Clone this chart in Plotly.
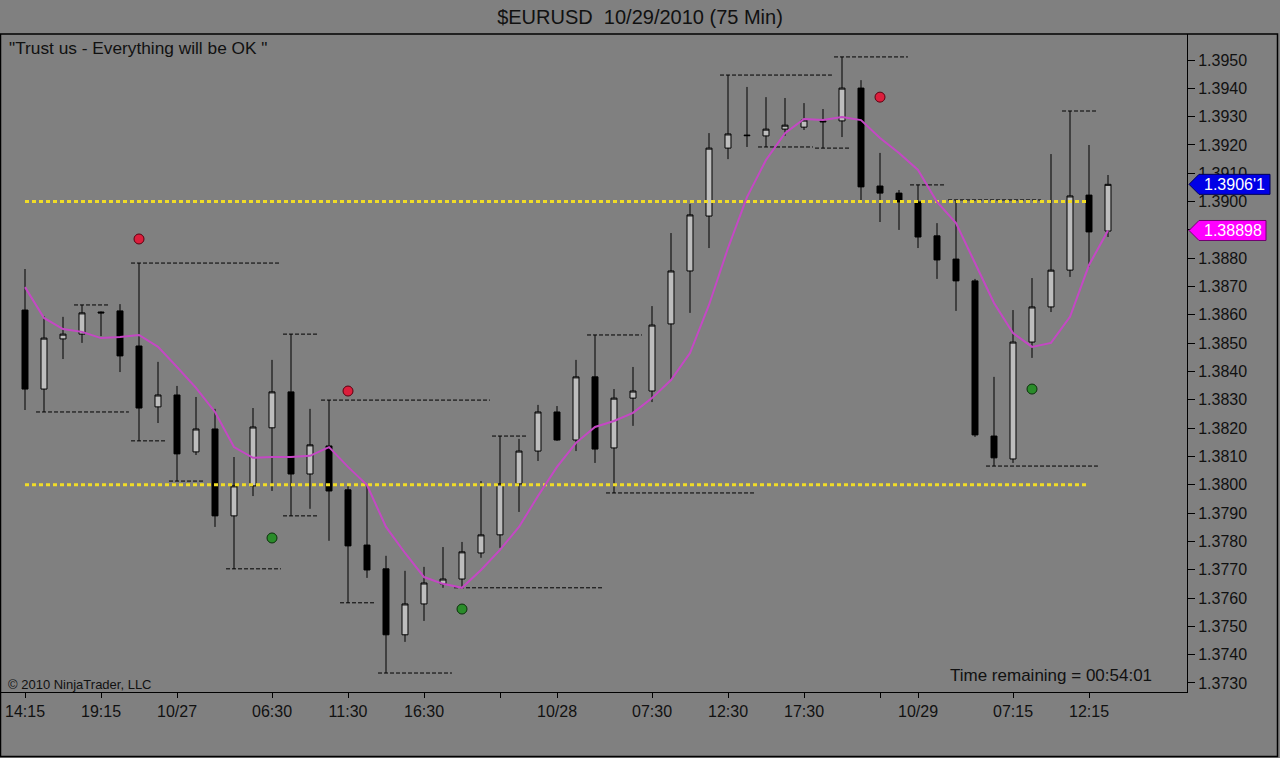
import plotly.graph_objects as go

# $EURUSD 75 min bars, 10/26 14:15 -> 10/29 13:30 (bar index 0..57)
bar_open = [1.38617, 1.38338, 1.38515, 1.38532, 1.38610, 1.38614, 1.38490, 1.38275, 1.38317, 1.38116,
            1.38197, 1.37890, 1.37996, 1.38201, 1.38328, 1.38038, 1.38137, 1.37982, 1.37787, 1.37703,
            1.37470, 1.37579, 1.37650, 1.37667, 1.37759, 1.37823, 1.38003, 1.38119, 1.38257, 1.38158,
            1.38381, 1.38130, 1.38306, 1.38331, 1.38568, 1.38755, 1.38949, 1.39189, 1.39235, 1.39232,
            1.39256, 1.39263, 1.39285, 1.39285, 1.39401, 1.39055, 1.39030, 1.38999, 1.38879, 1.38797,
            1.38720, 1.38172, 1.38091, 1.38504, 1.38628, 1.38758, 1.39023, 1.38896]
bar_high = [1.38762, 1.38596, 1.38593, 1.38635, 1.38612, 1.38638, 1.38783, 1.38434, 1.38349, 1.38310,
            1.38268, 1.38098, 1.38271, 1.38441, 1.38532, 1.38268, 1.38299, 1.37996, 1.37999, 1.37749,
            1.37696, 1.37710, 1.37780, 1.37798, 1.38013, 1.38172, 1.38162, 1.38282, 1.38278, 1.38441,
            1.38529, 1.38338, 1.38416, 1.38631, 1.38889, 1.38992, 1.39242, 1.39447, 1.39405, 1.39369,
            1.39366, 1.39348, 1.39327, 1.39511, 1.39429, 1.39172, 1.39041, 1.39059, 1.38924, 1.39006,
            1.38727, 1.38381, 1.38617, 1.38730, 1.39168, 1.39320, 1.39200, 1.39094]
bar_low = [1.38264, 1.38257, 1.38444, 1.38501, 1.38525, 1.38398, 1.38155, 1.38218, 1.38013, 1.38105,
           1.37851, 1.37703, 1.37960, 1.37978, 1.37890, 1.37915, 1.37802, 1.37583, 1.37671, 1.37335,
           1.37445, 1.37519, 1.37636, 1.37636, 1.37742, 1.37777, 1.37904, 1.38084, 1.38155, 1.38119,
           1.38077, 1.37971, 1.38208, 1.38292, 1.38370, 1.38607, 1.38836, 1.39150, 1.39193, 1.39193,
           1.39232, 1.39253, 1.39189, 1.39228, 1.38999, 1.38928, 1.38900, 1.38836, 1.38727, 1.38614,
           1.38169, 1.38066, 1.38077, 1.38448, 1.38610, 1.38734, 1.38769, 1.38875]
bar_close = [1.38338, 1.38518, 1.38532, 1.38607, 1.38607, 1.38455, 1.38271, 1.38317, 1.38109, 1.38197,
             1.37890, 1.37996, 1.38204, 1.38328, 1.38038, 1.38141, 1.37978, 1.37784, 1.37699, 1.37470,
             1.37579, 1.37653, 1.37667, 1.37763, 1.37823, 1.38003, 1.38119, 1.38257, 1.38158, 1.38381,
             1.38126, 1.38306, 1.38331, 1.38564, 1.38755, 1.38953, 1.39189, 1.39239, 1.39233, 1.39256,
             1.39270, 1.39288, 1.39282, 1.39401, 1.39052, 1.39030, 1.38999, 1.38875, 1.38794, 1.38720,
             1.38176, 1.38095, 1.38504, 1.38628, 1.38758, 1.39020, 1.38893, 1.39061]

# moving average (magenta line)
ma_values = [1.38698, 1.38589, 1.38550, 1.38540, 1.38518, 1.38522, 1.38529, 1.38487, 1.38416, 1.38342,
             1.38257, 1.38133, 1.38095, 1.38098, 1.38098, 1.38102, 1.38133, 1.38063, 1.37999, 1.37851,
             1.37759, 1.37674, 1.37650, 1.37636, 1.37699, 1.37770, 1.37851, 1.37960, 1.38063, 1.38148,
             1.38204, 1.38225, 1.38254, 1.38306, 1.38370, 1.38465, 1.38635, 1.38836, 1.39016, 1.39147,
             1.39242, 1.39292, 1.39288, 1.39299, 1.39288, 1.39225, 1.39172, 1.39112, 1.38999, 1.38924,
             1.38783, 1.38642, 1.38536, 1.38487, 1.38501, 1.38593, 1.38776, 1.38898]

# swing high/low levels: price, first bar, last bar
swing_level = [1.38257, 1.38635, 1.38783, 1.38155, 1.38013, 1.38532, 1.37890, 1.37703, 1.38299, 1.37583,
               1.37335, 1.37636, 1.38172, 1.38529, 1.37971, 1.39447, 1.39193, 1.39189, 1.39511, 1.39059,
               1.39006, 1.38066, 1.39320]
swing_first = [1, 3, 6, 6, 8, 14, 14, 11, 16, 17, 19, 23, 25, 30, 31, 37, 39, 42, 43, 47, 49, 51, 55]
swing_last = [5, 4, 13, 7, 9, 15, 15, 13, 24, 18, 22, 30, 26, 32, 38, 42, 41, 43, 46, 48, 53, 56, 56]

# swing dots
red_bars = [6, 17, 45]
red_prices = [1.38868, 1.38331, 1.39369]
green_bars = [13, 23, 53]
green_prices = [1.37812, 1.37561, 1.38338]

# yellow horizontal levels
level_prices = [1.3900, 1.3800]
level_first_bar = 0
level_last_bar = 56

# axis ticks
x_tick_bars = [0, 4, 8, 13, 17, 21, 25, 28, 33, 37, 41, 45, 47, 52, 56]
x_tick_labels = ['14:15', '19:15', '10/27', '06:30', '11:30', '16:30', '', '10/28',
                 '07:30', '12:30', '17:30', '', '10/29', '07:15', '12:15']
y_tick_values = [1.3730, 1.3740, 1.3750, 1.3760, 1.3770, 1.3780, 1.3790, 1.3800, 1.3810, 1.3820, 1.3830,
                 1.3840, 1.3850, 1.3860, 1.3870, 1.3880, 1.3890, 1.3900, 1.3910, 1.3920, 1.3930,
                 1.3940, 1.3950]
# 1.3890 is fully hidden behind the MA price tag in the original
y_tick_hidden = [1.3890]

last_price = 1.39061
last_price_label = "1.3906'1"
ma_last = 1.38898
ma_last_label = '1.38898'

# page geometry
W, H = 1280, 758
ML, MR, MT, MB = 1, 93, 34, 66
PW = W - ML - MR
PH = H - MT - MB
Y_RANGE = [1.37268, 1.39592]
X_RANGE = [-1.263, 61.158]
PX_PER_PRICE = PH / (Y_RANGE[1] - Y_RANGE[0])


def paper_x(px):
    return (px - ML) / PW


def paper_y(py):
    return (H - MB - py) / PH


bar_idx = list(range(len(bar_open)))
FONT = 'Liberation Sans, Arial, sans-serif'

fig = go.Figure()

fig.add_trace(go.Candlestick(
    x=bar_idx, open=bar_open, high=bar_high, low=bar_low, close=bar_close,
    increasing=dict(line=dict(color='black', width=1), fillcolor='#bdbdbd'),
    decreasing=dict(line=dict(color='black', width=1), fillcolor='black'),
    whiskerwidth=0, hoverinfo='skip', showlegend=False))

# dotted swing lines
sx, sy = [], []
for lvl, a, b in zip(swing_level, swing_first, swing_last):
    sx += [a - 0.42, b + 0.47, None]
    sy += [lvl, lvl, None]
fig.add_trace(go.Scatter(x=sx, y=sy, mode='lines', hoverinfo='skip',
                         line=dict(color='black', width=1, dash='4px,2px')))

# yellow levels
yx, yy = [], []
for lvl in level_prices:
    yx += [level_first_bar, level_last_bar, None]
    yy += [lvl, lvl, None]
fig.add_trace(go.Scatter(x=yx, y=yy, mode='lines', hoverinfo='skip',
                         line=dict(color='#f0dc28', width=3, dash='4px,3px')))

# moving average
fig.add_trace(go.Scatter(x=bar_idx, y=ma_values, mode='lines', hoverinfo='skip',
                         line=dict(color='#c448c4', width=2)))

fig.add_trace(go.Scatter(x=red_bars, y=red_prices, mode='markers', hoverinfo='skip',
                         marker=dict(color='#dc1e3c', size=10, line=dict(color='#5a0010', width=1))))
fig.add_trace(go.Scatter(x=green_bars, y=green_prices, mode='markers', hoverinfo='skip',
                         marker=dict(color='#2a8c2a', size=10, line=dict(color='#0a300a', width=1))))

shapes = [dict(type='rect', xref='paper', yref='paper',
               x0=paper_x(0.5), x1=paper_x(1277.5), y0=paper_y(756.5), y1=paper_y(34),
               line=dict(color='black', width=1.5), layer='above')]

annotations = [
    dict(text='"Trust us - Everything will be OK "', xref='paper', yref='paper',
         x=paper_x(7), y=paper_y(48), xanchor='left', yanchor='middle', showarrow=False,
         font=dict(size=17.3, color='#111111')),
    dict(text='\u00a9 2010 NinjaTrader, LLC', xref='paper', yref='paper',
         x=paper_x(6), y=paper_y(684), xanchor='left', yanchor='middle', showarrow=False,
         font=dict(size=13, color='#111111')),
    dict(text='Time remaining = 00:54:01', xref='paper', yref='paper',
         x=paper_x(1154), y=paper_y(675), xanchor='right', yanchor='middle', showarrow=False,
         font=dict(size=17, color='#111111')),
]

# price tags on the right axis
half = 10 / PX_PER_PRICE
for val, label, fill, edge, right in [(last_price, last_price_label, '#0000e6', '#00005a', 1270),
                                      (ma_last, ma_last_label, '#ff00ff', '#700070', 1266)]:
    tip, left, rgt = paper_x(1189), paper_x(1199), paper_x(right)
    path = (f'M {tip},{val} L {left},{val + half} L {rgt},{val + half} '
            f'L {rgt},{val - half} L {left},{val - half} Z')
    shapes.append(dict(type='path', xref='paper', yref='y', path=path,
                       fillcolor=fill, line=dict(color=edge, width=1), layer='above'))
    annotations.append(dict(text=label, xref='paper', yref='y', x=(left + rgt) / 2, y=val,
                            xanchor='center', yanchor='middle', showarrow=False,
                            font=dict(size=16, color='white')))

fig.update_layout(
    width=W, height=H,
    margin=dict(l=ML, r=MR, t=MT, b=MB, pad=0),
    paper_bgcolor='#808080', plot_bgcolor='#808080',
    font=dict(family=FONT, size=16, color='#111111'),
    boxgap=0.55,
    showlegend=False,
    title=dict(text='$EURUSD\u00a0\u00a010/29/2010 (75 Min)', x=0.5, xanchor='center',
               y=1 - 17 / H, yanchor='middle', font=dict(size=20, color='#111111')),
    xaxis=dict(range=X_RANGE, showgrid=False, zeroline=False, rangeslider=dict(visible=False),
               tickmode='array', tickvals=x_tick_bars, ticktext=x_tick_labels,
               ticks='outside', ticklen=5, tickcolor='black', tickwidth=1,
               showline=True, linecolor='black', linewidth=1, tickfont=dict(size=16)),
    yaxis=dict(side='right', range=Y_RANGE, showgrid=False, zeroline=False,
               tickmode='array', tickvals=y_tick_values,
               ticktext=['' if v in y_tick_hidden else f'{v:.4f}' for v in y_tick_values],
               ticks='outside', ticklen=7, tickcolor='black', tickwidth=1,
               showline=True, linecolor='black', linewidth=1, tickfont=dict(size=16)),
    shapes=shapes,
    annotations=annotations,
)

# drop the browser's default 8px body margin so the chart fills the window exactly
fig.write_html("out.html", config={'displayModeBar': False},
               post_script="document.body.style.margin='0';"
                           "document.body.style.overflow='hidden';")
